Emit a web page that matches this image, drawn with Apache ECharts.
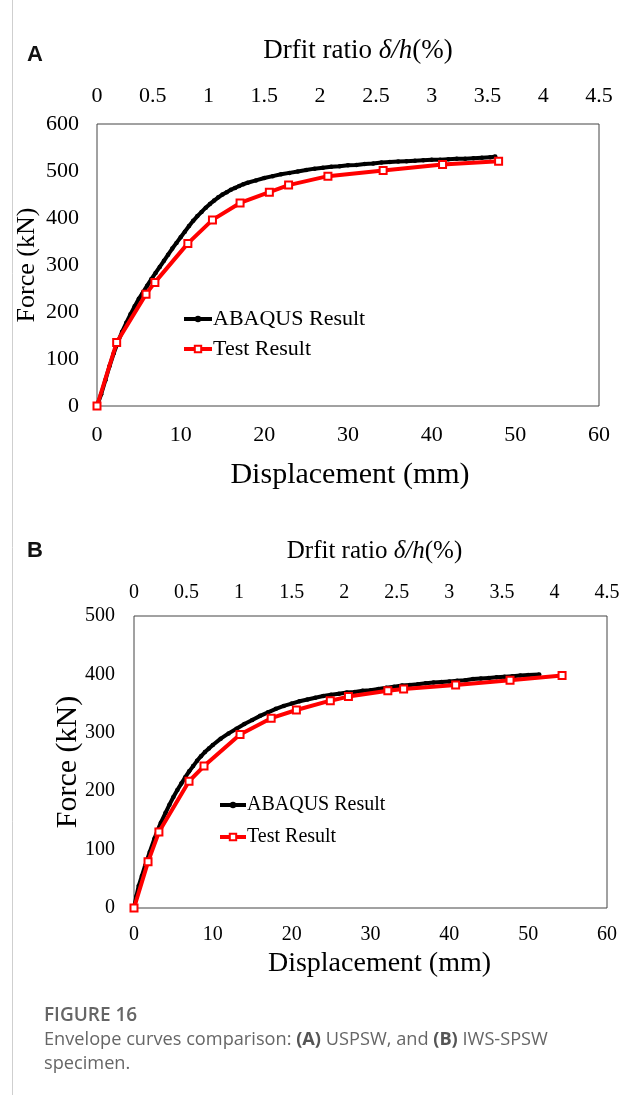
<!DOCTYPE html>
<html>
<head>
<meta charset="utf-8">
<style>
html,body{margin:0;padding:0;background:#fff;}
#c{width:628px;height:1095px;}
</style>
<script src="https://cdn.jsdelivr.net/npm/echarts@6/dist/echarts.min.js"></script>
</head>
<body>
<div id="c"></div>
<script>
// Panel A (USPSW): displacement (mm), force (kN)
var abaqusA = [[0,0],[0.5,25],[1,55],[1.5,85],[2,112],[2.5,136],[3,158],[3.5,177],[4,195],[4.5,212],[5,228],[5.5,242],[6,256],[6.5,270],[7,283],[7.5,296],[8,309],[8.5,322],[9,335],[9.5,347],[10,359],[10.5,371],[11,383],[11.5,394],[12,404],[12.5,413],[13,422],[13.5,430],[14,437],[14.5,444],[15,450],[15.5,455],[16,460],[16.5,464],[17,468],[17.5,472],[18,475],[19,480],[20,485],[21,489],[22,493],[23,496],[24,499],[25,502],[26,505],[27,507],[28,509],[29,510],[30,512],[31,513],[32,515],[33,516],[34,518],[35,519],[36,520],[37,521],[38,522],[39,523],[40,524],[41,524],[42,525],[43,526],[44,526],[45,527],[46,528],[47,529],[47.6,531]];
var testA = [[0,0],[2.35,135],[5.86,238],[6.92,263],[10.86,346],[13.8,396],[17.1,432],[20.6,455],[22.9,470],[27.6,489],[34.2,501],[41.3,514],[48.0,521]];
// Panel B (IWS-SPSW)
var abaqusB = [[0,0],[0.3,20],[0.6,38],[1,55],[1.4,72],[2,96],[2.6,119],[3,133],[3.4,146],[4,163],[4.5,177],[5,190],[5.5,202],[6,213],[6.5,224],[7,234],[7.5,243],[8,252],[8.5,260],[9,267],[9.5,273],[10,279],[11,290],[12,299],[13,307],[14,315],[15,322],[16,329],[17,335],[18,341],[19,346],[20,350],[21,354],[22,357],[23,360],[24,363],[25,365],[26,367],[27,369],[28,370],[29,372],[30,373],[31,375],[32,377],[33,379],[34,381],[35,382],[36,383],[37,385],[38,386],[39,387],[40,388],[41,389],[42,390],[43,392],[44,393],[45,394],[46,395],[47,396],[48,397],[49,398],[50,399],[51.4,400]];
var testB = [[0,0],[1.78,79],[3.16,130],[6.98,217],[8.88,243],[13.45,297],[17.4,325],[20.6,339],[24.9,355],[27.2,362],[32.2,372],[34.2,375],[40.8,382],[47.7,390],[54.3,398]];

var seriesNames = ['ABAQUS Result', 'Test Result'];
var driftTicks = [0, 4.5, 0.5];   // min, max, interval of drift ratio axis
var dispTicks = [0, 60, 10];
var forceTicksA = [0, 600, 100];
var forceTicksB = [0, 500, 100];

var serif = '"Liberation Serif","Times New Roman",serif';
var sans = '"Open Sans",sans-serif';
var chart = echarts.init(document.getElementById('c'), null, {renderer:'canvas'});

function titleName() {
  return '{n|Drfit ratio }{i|\u03b4/h}{n|(%)}';
}
function richT(fs) {
  return {n:{fontFamily:serif,fontSize:fs,color:'#000'}, i:{fontFamily:serif,fontSize:fs,fontStyle:'italic',color:'#000'}};
}

var option = {
  animation: false,
  backgroundColor: '#fff',
  title: [
    {text:'A', left:22, top:39, textStyle:{fontFamily:'"Liberation Sans",Arial,sans-serif', fontWeight:'bold', fontSize:22, color:'#111'}},
    {text:'B', left:22, top:535, textStyle:{fontFamily:'"Liberation Sans",Arial,sans-serif', fontWeight:'bold', fontSize:22, color:'#111'}},
    {text:'FIGURE 16', left:44, top:1004, padding:0, textStyle:{fontFamily:sans, fontWeight:600, fontSize:19, color:'#666', lineHeight:24}},
    {text:'{r|Envelope curves comparison: }{b|(A)}{r| USPSW, and }{b|(B)}{r| IWS-SPSW}\n{r|specimen.}', left:44, top:1028, padding:0,
     textStyle:{fontFamily:sans, fontWeight:'normal', fontSize:18.2, color:'#666', lineHeight:24,
       rich:{r:{fontFamily:sans, fontWeight:'normal', fontSize:18.2, color:'#666', lineHeight:24},
             b:{fontFamily:sans, fontSize:18.2, fontWeight:'bold', color:'#555', lineHeight:24}}}}
  ],
  graphic: [
    {type:'line', shape:{x1:12.5, y1:0, x2:12.5, y2:1095}, style:{stroke:'#cfcfcf', lineWidth:1}, silent:true}
  ],
  legend: [
    {orient:'vertical', left:182, top:308, padding:0, itemWidth:28, itemHeight:8, itemGap:8, data:seriesNames,
     lineStyle:{width:4}, textStyle:{fontFamily:serif, fontSize:22, color:'#000', padding:[0,0,0,-4]}},
    {orient:'vertical', left:218, top:795, padding:0, itemWidth:26, itemHeight:8, itemGap:12, data:seriesNames,
     lineStyle:{width:4}, textStyle:{fontFamily:serif, fontSize:20, color:'#000', padding:[0,0,0,-4]}}
  ],
  grid: [
    {left:97, top:124, width:502, height:282, show:true, borderColor:'#444', borderWidth:1, backgroundColor:'transparent'},
    {left:134, top:616, width:473, height:292, show:true, borderColor:'#444', borderWidth:1, backgroundColor:'transparent'}
  ],
  xAxis: [
    {gridIndex:0, type:'value', min:dispTicks[0], max:dispTicks[1], interval:dispTicks[2],
     axisLine:{show:false}, axisTick:{show:false}, splitLine:{show:false},
     axisLabel:{margin:18, fontFamily:serif, fontSize:22, color:'#000'},
     name:'Displacement (mm)', nameLocation:'middle', nameGap:54,
     nameTextStyle:{fontFamily:serif, fontSize:30, color:'#000', padding:[0,0,0,4]}},
    {gridIndex:0, type:'value', position:'top', min:driftTicks[0], max:driftTicks[1], interval:driftTicks[2],
     axisLine:{show:false}, axisTick:{show:false}, splitLine:{show:false},
     axisLabel:{margin:17, fontFamily:serif, fontSize:22, color:'#000'},
     name:titleName(), nameLocation:'middle', nameGap:60,
     nameTextStyle:{padding:[0,0,0,20], rich:richT(27)}},
    {gridIndex:1, type:'value', min:dispTicks[0], max:dispTicks[1], interval:dispTicks[2],
     axisLine:{show:false}, axisTick:{show:false}, splitLine:{show:false},
     axisLabel:{margin:17, fontFamily:serif, fontSize:20, color:'#000'},
     name:'Displacement (mm)', nameLocation:'middle', nameGap:42,
     nameTextStyle:{fontFamily:serif, fontSize:28, color:'#000', padding:[0,0,0,18]}},
    {gridIndex:1, type:'value', position:'top', min:driftTicks[0], max:driftTicks[1], interval:driftTicks[2],
     axisLine:{show:false}, axisTick:{show:false}, splitLine:{show:false},
     axisLabel:{margin:13, fontFamily:serif, fontSize:20, color:'#000'},
     name:titleName(), nameLocation:'middle', nameGap:52,
     nameTextStyle:{padding:[0,0,0,8], rich:richT(25)}}
  ],
  yAxis: [
    {gridIndex:0, type:'value', min:forceTicksA[0], max:forceTicksA[1], interval:forceTicksA[2],
     axisLine:{show:false}, axisTick:{show:false}, splitLine:{show:false},
     axisLabel:{margin:18, fontFamily:serif, fontSize:22, color:'#000'},
     name:'Force (kN)', nameLocation:'middle', nameGap:57, nameMoveOverlap:false,
     nameTextStyle:{fontFamily:serif, fontSize:26, color:'#000'}},
    {gridIndex:1, type:'value', min:forceTicksB[0], max:forceTicksB[1], interval:forceTicksB[2],
     axisLine:{show:false}, axisTick:{show:false}, splitLine:{show:false},
     axisLabel:{margin:19, fontFamily:serif, fontSize:20, color:'#000'},
     name:'Force (kN)', nameLocation:'middle', nameGap:51, nameMoveOverlap:false,
     nameTextStyle:{fontFamily:serif, fontSize:30, color:'#000'}}
  ],
  series: [
    {name:seriesNames[0], type:'line', xAxisIndex:0, yAxisIndex:0, data:abaqusA,
     symbol:'circle', symbolSize:4.5, showAllSymbol:true, lineStyle:{color:'#000', width:4}, itemStyle:{color:'#000'}, z:3},
    {name:seriesNames[1], type:'line', xAxisIndex:0, yAxisIndex:0, data:testA,
     symbol:'emptyRect', symbolSize:7, showAllSymbol:true, lineStyle:{color:'#f00', width:4}, itemStyle:{color:'#f00', borderWidth:1.2}, z:4},
    {name:seriesNames[0], type:'line', xAxisIndex:2, yAxisIndex:1, data:abaqusB,
     symbol:'circle', symbolSize:4.5, showAllSymbol:true, lineStyle:{color:'#000', width:4}, itemStyle:{color:'#000'}, z:3},
    {name:seriesNames[1], type:'line', xAxisIndex:2, yAxisIndex:1, data:testB,
     symbol:'emptyRect', symbolSize:7, showAllSymbol:true, lineStyle:{color:'#f00', width:4}, itemStyle:{color:'#f00', borderWidth:1.2}, z:4}
  ]
};
chart.setOption(option);
</script>
</body>
</html>
